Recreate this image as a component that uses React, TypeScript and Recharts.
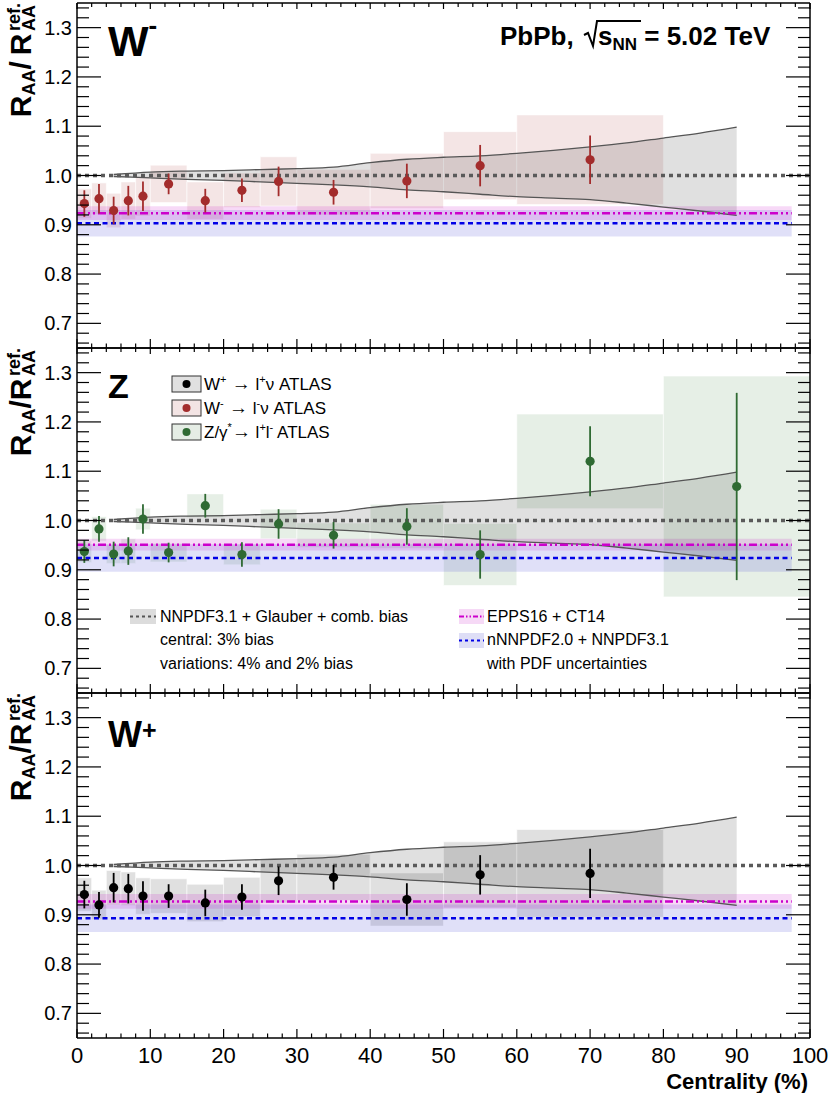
import React from 'react'
import { ComposedChart, XAxis, YAxis, Scatter, ErrorBar, Area, ReferenceArea, ReferenceLine } from 'recharts'

// centrality bins (%)
const binLo = [0, 2, 4, 6, 8, 10, 15, 20, 25, 30, 40, 50, 60]
const binHi = [2, 4, 6, 8, 10, 15, 20, 25, 30, 40, 50, 60, 80]
const binMid = [1, 3, 5, 7, 9, 12.5, 17.5, 22.5, 27.5, 35, 45, 55, 70]
const zBinLo = [0, 2, 4, 6, 8, 10, 15, 20, 25, 30, 40, 50, 60, 80]
const zBinHi = [2, 4, 6, 8, 10, 15, 20, 25, 30, 40, 50, 60, 80, 100]
const zBinMid = [1, 3, 5, 7, 9, 12.5, 17.5, 22.5, 27.5, 35, 45, 55, 70, 90]

// W- -> l- nu
const wmVal = [0.943, 0.953, 0.929, 0.949, 0.958, 0.983, 0.949, 0.970, 0.988, 0.966, 0.989, 1.020, 1.032]
const wmStat = [0.027, 0.030, 0.028, 0.030, 0.030, 0.021, 0.024, 0.024, 0.030, 0.025, 0.035, 0.042, 0.049]
const wmSys = [0.030, 0.032, 0.035, 0.038, 0.040, 0.038, 0.038, 0.035, 0.050, 0.046, 0.056, 0.069, 0.091]

// Z/gamma* -> l+ l-
const zVal = [0.937, 0.983, 0.932, 0.938, 1.003, 0.935, 1.030, 0.931, 0.993, 0.970, 0.988, 0.931, 1.120, 1.069]
const zStat = [0.023, 0.026, 0.025, 0.028, 0.030, 0.020, 0.024, 0.025, 0.030, 0.027, 0.037, 0.049, 0.071, 0.190]
const zSys = [0.022, 0.025, 0.019, 0.025, 0.022, 0.019, 0.024, 0.021, 0.030, 0.025, 0.045, 0.063, 0.096, 0.224]

// W+ -> l+ nu
const wpVal = [0.941, 0.920, 0.955, 0.953, 0.938, 0.938, 0.924, 0.936, 0.969, 0.976, 0.931, 0.981, 0.984]
const wpStat = [0.028, 0.026, 0.030, 0.030, 0.030, 0.024, 0.027, 0.026, 0.029, 0.025, 0.033, 0.040, 0.050]
const wpSys = [0.034, 0.030, 0.035, 0.034, 0.037, 0.035, 0.038, 0.040, 0.045, 0.047, 0.054, 0.067, 0.089]

// NNPDF3.1 + Glauber + comb. bias band (same in every panel)
const bandX = [5, 10, 15, 20, 25, 30, 35, 40, 45, 50, 55, 60, 65, 70, 75, 80, 85, 90]
const bandLow = [0.998, 0.995, 0.992, 0.990, 0.987, 0.984, 0.981, 0.977, 0.971, 0.967, 0.962, 0.957, 0.954, 0.951, 0.944, 0.936, 0.928, 0.919]
const bandHigh = [1.002, 1.007, 1.009, 1.010, 1.012, 1.014, 1.017, 1.026, 1.033, 1.037, 1.040, 1.045, 1.051, 1.058, 1.066, 1.076, 1.086, 1.098]

// EPPS16 + CT14 and nNNPDF2.0 + NNPDF3.1, per panel (W-, Z, W+)
const eppsVal = [0.9235, 0.951, 0.927]
const eppsErr = [0.014, 0.012, 0.015]
const nnpdfVal = [0.903, 0.924, 0.893]
const nnpdfErr = [0.027, 0.028, 0.028]
const modelEnd = 97.5

const xTicks = Array.from({ length: 51 }, (_, i) => i * 2)
const yTicks = Array.from({ length: 35 }, (_, i) => Math.round((0.66 + 0.02 * i) * 100) / 100)

const bandData = bandX.map((x, i) => ({ x, range: [bandLow[i], bandHigh[i]] }))

const PANEL_H = 345
const TOPS = [2.5, 347.5, 692.5]
const FONT = '"Liberation Sans", Arial, Helvetica, sans-serif'
const frame = { stroke: '#000', strokeWidth: 1.5 }

const isMajorY = (v: number) => Math.round(v * 100) % 10 === 0
const isMajorX = (v: number) => v % 10 === 0

const leftTick = (props: any) => {
  const { x, y, payload } = props
  const v = payload.value as number
  const major = isMajorY(v)
  return (
    <g>
      <line x1={x} x2={x + (major ? 24 : 12)} y1={y} y2={y} stroke="#000" strokeWidth={1.2} />
      {major && (
        <text x={x - 5} y={y + 7} textAnchor="end" fontSize={20} fill="#000" fontFamily={FONT}>
          {v.toFixed(1)}
        </text>
      )}
    </g>
  )
}

const rightTick = (props: any) => {
  const { x, y, payload } = props
  const major = isMajorY(payload.value)
  return <line x1={x - (major ? 24 : 12)} x2={x} y1={y} y2={y} stroke="#000" strokeWidth={1.2} />
}

const topTick = (props: any) => {
  const { x, y, payload } = props
  const major = isMajorX(payload.value)
  return <line x1={x} x2={x} y1={y} y2={y + (major ? 6 : 4)} stroke="#000" strokeWidth={1.2} />
}

const bottomTick = (labels: boolean) => (props: any) => {
  const { x, y, payload } = props
  const v = payload.value as number
  const major = isMajorX(v)
  return (
    <g>
      <line x1={x} x2={x} y1={y} y2={y - (major ? 9 : 4.5)} stroke="#000" strokeWidth={1.2} />
      {labels && major && (
        <text x={x} y={y + 25} textAnchor="middle" fontSize={22} fill="#000" fontFamily={FONT}>
          {v}
        </text>
      )}
    </g>
  )
}

type PanelProps = {
  lo: number[]
  hi: number[]
  mid: number[]
  val: number[]
  stat: number[]
  sys: number[]
  color: string
  boxColor: string
  idx: number
  last?: boolean
}

function Panel(p: PanelProps) {
  const points = p.mid.map((x, i) => ({ x, y: p.val[i], err: p.stat[i] }))
  const bottomH = p.last ? 58 : 2
  const h = 2 + PANEL_H + bottomH
  const ep = eppsVal[p.idx]
  const nn = nnpdfVal[p.idx]
  return (
    <div style={{ position: 'absolute', left: 0, top: TOPS[p.idx] - 2, width: 830, height: h }}>
      <ComposedChart width={830} height={h} data={bandData} margin={{ top: 0, right: 0, bottom: 0, left: 0 }}>
        <XAxis
          dataKey="x"
          type="number"
          domain={[0, 100]}
          allowDataOverflow
          ticks={xTicks}
          interval={0}
          tickSize={0}
          tickMargin={0}
          tickLine={false}
          axisLine={frame}
          tick={bottomTick(!!p.last)}
          height={bottomH}
        />
        <XAxis
          xAxisId="t"
          orientation="top"
          dataKey="x"
          type="number"
          domain={[0, 100]}
          allowDataOverflow
          ticks={xTicks}
          interval={0}
          tickSize={0}
          tickMargin={0}
          tickLine={false}
          axisLine={frame}
          tick={topTick}
          height={2}
        />
        <YAxis
          dataKey="y"
          type="number"
          domain={[0.65, 1.35]}
          allowDataOverflow
          ticks={yTicks}
          interval={0}
          tickSize={0}
          tickMargin={0}
          tickLine={false}
          axisLine={frame}
          tick={leftTick}
          width={77}
        />
        <YAxis
          yAxisId="r"
          orientation="right"
          type="number"
          domain={[0.65, 1.35]}
          allowDataOverflow
          ticks={yTicks}
          interval={0}
          tickSize={0}
          tickMargin={0}
          tickLine={false}
          axisLine={frame}
          tick={rightTick}
          width={20}
        />

        {p.lo.map((lo, i) => (
          <ReferenceArea
            key={'sys' + i}
            x1={lo}
            x2={p.hi[i]}
            y1={p.val[i] - p.sys[i]}
            y2={p.val[i] + p.sys[i]}
            fill={p.boxColor}
            fillOpacity={0.12}
            stroke="#fff"
            strokeWidth={0.6}
            ifOverflow="visible"
          />
        ))}

        <ReferenceArea x1={0} x2={modelEnd} y1={nn - nnpdfErr[p.idx]} y2={nn + nnpdfErr[p.idx]} fill="#3c3cd2" fillOpacity={0.16} stroke="none" ifOverflow="visible" />
        <ReferenceArea x1={0} x2={modelEnd} y1={ep - eppsErr[p.idx]} y2={ep + eppsErr[p.idx]} fill="#cc00cc" fillOpacity={0.15} stroke="none" ifOverflow="visible" />

        <Area
          dataKey="range"
          type="monotone"
          fill="#000"
          fillOpacity={0.12}
          stroke="#555"
          strokeWidth={1.3}
          dot={false}
          activeDot={false}
          isAnimationActive={false}
        />

        <ReferenceLine y={1} stroke="#5a5a5a" strokeWidth={3.5} strokeDasharray="4 4" ifOverflow="visible" />
        <ReferenceLine
          segment={[{ x: 0, y: ep }, { x: modelEnd, y: ep }]}
          stroke="#cc00cc"
          strokeWidth={2.5}
          strokeDasharray="8 3 2 3 2 3"
          ifOverflow="visible"
        />
        <ReferenceLine
          segment={[{ x: 0, y: nn }, { x: modelEnd, y: nn }]}
          stroke="#0000e6"
          strokeWidth={2.5}
          strokeDasharray="5 3.5"
          ifOverflow="visible"
        />

        <Scatter
          data={points}
          fill={p.color}
          isAnimationActive={false}
          shape={(s: any) => <circle cx={s.cx} cy={s.cy} r={4.6} fill={p.color} />}
        >
          <ErrorBar dataKey="err" direction="y" width={0} stroke={p.color} strokeWidth={1.8} isAnimationActive={false} />
        </Scatter>
      </ComposedChart>
    </div>
  )
}

function AxisTitle({ top, spaced }: { top: number; spaced?: boolean }) {
  return (
    <g transform={`translate(31, ${top + 31}) rotate(-90)`} fontWeight="bold" fill="#000">
      <text textAnchor="end" fontSize={30}>
        R<tspan fontSize={18} dy={4}>AA</tspan>
        <tspan dy={-4}>{spaced ? '/\u2009R' : '/R'}</tspan>
      </text>
      <text x={2.5} y={-11} fontSize={18}>ref.</text>
      <text x={2.5} y={4} fontSize={18}>AA</text>
    </g>
  )
}

function MarkerRow({ y, fill, color, children }: { y: number; fill: string; color: string; children: React.ReactNode }) {
  return (
    <g>
      <rect x={172} y={y - 8} width={29} height={16} fill={fill} stroke="#333" strokeWidth={1} />
      <circle cx={186.5} cy={y} r={4} fill={color} />
      <text x={204} y={y + 6} fontSize={17} fill="#000">{children}</text>
    </g>
  )
}

const sup = (s: string) => (
  <tspan fontSize={11} dy={-7}>{s}</tspan>
)
const arrow = (lead: string) => (
  <tspan dy={7} fontSize={19}>{lead}→</tspan>
)

export default function App() {
  const W_M = '#a32c2c'
  const Z_C = '#2f6a33'
  return (
    <div style={{ position: 'absolute', left: 0, top: 0, width: 830, height: 1093, background: '#fff', fontFamily: FONT }}>
      <Panel idx={0} lo={binLo} hi={binHi} mid={binMid} val={wmVal} stat={wmStat} sys={wmSys} color={W_M} boxColor="#a52a2a" />
      <Panel idx={1} lo={zBinLo} hi={zBinHi} mid={zBinMid} val={zVal} stat={zStat} sys={zSys} color={Z_C} boxColor="#2e7d32" />
      <Panel idx={2} lo={binLo} hi={binHi} mid={binMid} val={wpVal} stat={wpStat} sys={wpSys} color="#000" boxColor="#000" last />

      <svg width={830} height={1093} style={{ position: 'absolute', left: 0, top: 0, pointerEvents: 'none' }} fontFamily={FONT}>
        <AxisTitle top={TOPS[0]} spaced />
        <AxisTitle top={TOPS[1]} />
        <AxisTitle top={TOPS[2]} />

        {/* panel labels */}
        <text x={108} y={TOPS[0] + 53} fontSize={43} fontWeight="bold">
          W<tspan fontSize={26} dy={-22}>-</tspan>
        </text>
        <text x={108} y={TOPS[1] + 50.5} fontSize={34} fontWeight="bold">Z</text>
        <text x={108} y={TOPS[2] + 54} fontSize={36} fontWeight="bold">
          W<tspan fontSize={25} dy={-8}>+</tspan>
        </text>

        {/* PbPb, sqrt(s_NN) = 5.02 TeV */}
        <text x={500} y={45} fontSize={26} fontWeight="bold">PbPb,</text>
        <path d="M584,35 L588,33 L593,46 L597,21 L641,21" fill="none" stroke="#000" strokeWidth={2} />
        <text x={598} y={45} fontSize={26} fontWeight="bold">
          s<tspan fontSize={17} dy={5}>NN</tspan>
          <tspan dy={-5}> = 5.02 TeV</tspan>
        </text>

        {/* marker legend */}
        <MarkerRow y={384} fill="#e0e0e0" color="#000">
          W{sup('+')}{arrow(' ')}<tspan fontSize={17}> l</tspan>{sup('+')}<tspan dy={7}>ν ATLAS</tspan>
        </MarkerRow>
        <MarkerRow y={408} fill="#f3e4e4" color={W_M}>
          W{sup('-')}{arrow(' ')}<tspan fontSize={17}> l</tspan>{sup('-')}<tspan dy={7}>ν ATLAS</tspan>
        </MarkerRow>
        <MarkerRow y={432} fill="#e5ede5" color={Z_C}>
          Z/γ{sup('*')}{arrow('')}<tspan fontSize={17}> l</tspan>{sup('+')}<tspan dy={7}>l</tspan>{sup('-')}<tspan dy={7}> ATLAS</tspan>
        </MarkerRow>

        {/* model legend */}
        <rect x={130} y={609} width={26} height={15} fill="#dcdcdc" />
        <line x1={130} x2={156} y1={616.5} y2={616.5} stroke="#555" strokeWidth={2} strokeDasharray="3 3" />
        <text x={160} y={621.5} fontSize={16}>NNPDF3.1 + Glauber + comb. bias</text>
        <text x={160} y={645} fontSize={16}>central: 3% bias</text>
        <text x={160} y={669} fontSize={16}>variations: 4% and 2% bias</text>

        <rect x={459} y={609} width={25} height={15} fill="#f6d9f6" />
        <line x1={459} x2={484} y1={616.5} y2={616.5} stroke="#cc00cc" strokeWidth={2} strokeDasharray="5 2 1.5 2 1.5 2" />
        <text x={487} y={621.5} fontSize={16}>EPPS16 + CT14</text>
        <rect x={459} y={633} width={25} height={15} fill="#dedef6" />
        <line x1={459} x2={484} y1={640.5} y2={640.5} stroke="#0000e6" strokeWidth={2} strokeDasharray="3 3" />
        <text x={487} y={645} fontSize={16}>nNNPDF2.0 + NNPDF3.1</text>
        <text x={487} y={669} fontSize={16}>with PDF uncertainties</text>

        <text x={808} y={1089} fontSize={22} fontWeight="bold" textAnchor="end">Centrality (%)</text>
      </svg>
    </div>
  )
}
